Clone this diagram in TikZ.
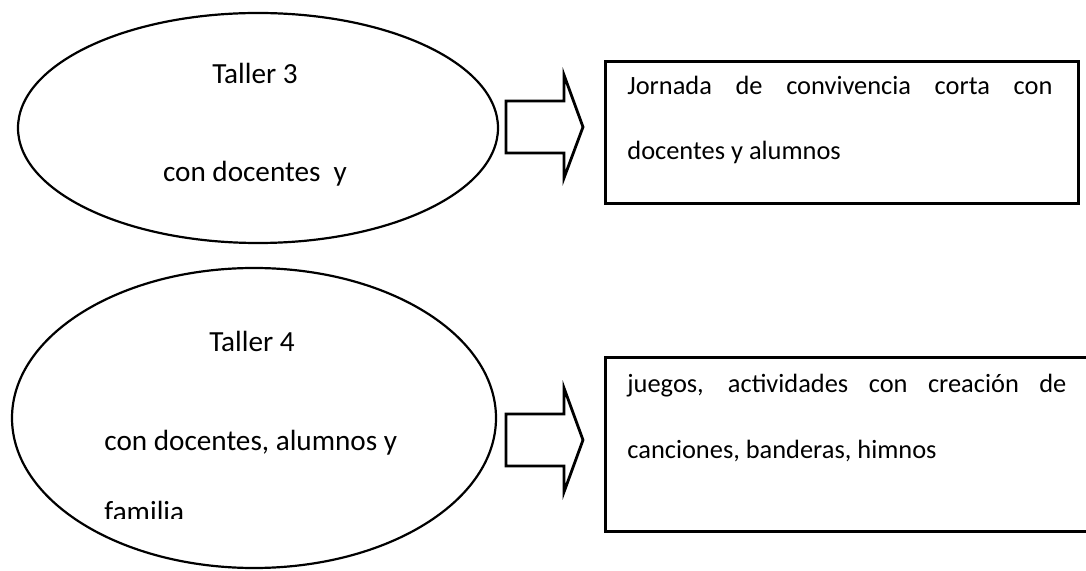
\documentclass[tikz,border=0pt]{standalone}
\usepackage{fontspec}
\setmainfont{Carlito}
\usetikzlibrary{shapes.geometric}
\begin{document}
\begin{tikzpicture}[x=0.5pt,y=0.5pt,line width=1.4pt]
  \tikzstyle{every node}+=[inner sep=0pt,font=\fontsize{13.2}{16}\selectfont]
  \tikzstyle{taller}=[draw,ellipse,line width=1.1pt]
  \tikzstyle{caja}=[draw,rectangle,line width=1.5pt]
  \tikzstyle{linea}=[anchor=base west]
  \tikzstyle{grande}=[font=\fontsize{14.6}{17}\selectfont]
  \clip (0,0) rectangle (1086,-571);
  \draw (258,-128) node [taller,minimum width=240pt,minimum height=115pt] (e3) {};
  \draw (255,-84) node [grande,anchor=base] (t3) {Taller 3};
  \draw (255,-182) node [grande,anchor=base] (d3) {con docentes\ \ y};
  \draw (254,-418) node [taller,minimum width=242pt,minimum height=150pt] (e4) {};
  \draw (252,-351) node [grande,anchor=base] (t4) {Taller 4};
  \draw (103,-450) node [grande,linea] (d4) {con docentes, alumnos y};
  \begin{scope}
    \clip (90,-470) rectangle (260,-518);
    \draw (103,-521) node [grande,linea] (f4) {familia};
  \end{scope}
  \draw (841.5,-133) node [caja,minimum width=236.5pt,minimum height=71pt] (c3) {};
  \draw (626,-95) node [linea] (j1) {\makebox[212.5pt][s]{Jornada de convivencia corta con}};
  \draw (626,-160) node [linea] (j2) {docentes y alumnos};
  \draw (850,-444.5) node [caja,minimum width=245pt,minimum height=86.5pt] (c4) {};
  \draw (626,-393) node [linea] (g1) {\makebox[219.5pt][s]{juegos, actividades con creación de}};
  \draw (626,-458) node [linea] (g2) {canciones, banderas, himnos};
  \coordinate (a3) at (506,-127);
  \coordinate (a4) at (506,-440);
  \draw [line join=miter] (a3) ++(0,26) -- ++(58,0) -- ++(0,26) -- ++(19,-52) -- ++(-19,-51) -- ++(0,25) -- ++(-58,0) -- cycle;
  \draw [line join=miter] (a4) ++(0,26) -- ++(58,0) -- ++(0,26) -- ++(19,-52) -- ++(-19,-52) -- ++(0,26) -- ++(-58,0) -- cycle;
\end{tikzpicture}
\end{document}
